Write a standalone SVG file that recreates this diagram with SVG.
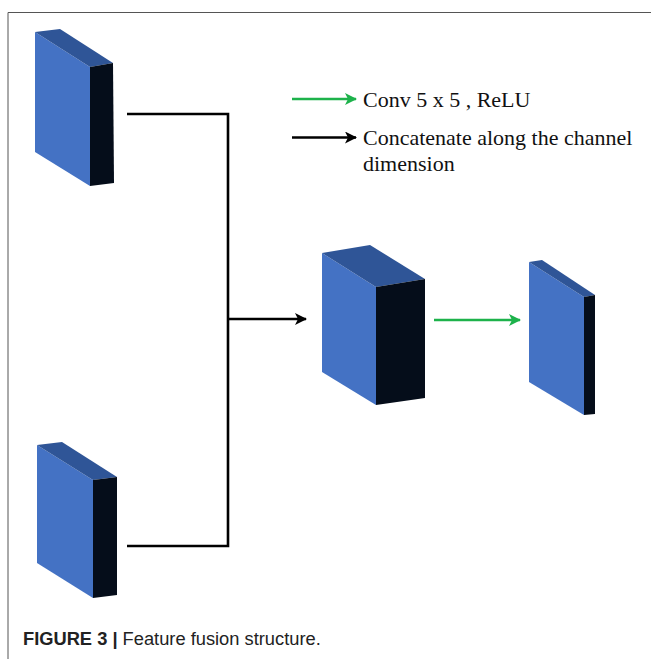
<svg xmlns="http://www.w3.org/2000/svg" width="651" height="659" viewBox="0 0 651 659">
<style>
.front{fill:#4472C4}
.top{fill:#2F5597}
.side{fill:#050D1A}
.blk{stroke:#000;stroke-width:2.6;fill:none}
.grn{stroke:#1DB24B;stroke-width:2.6;fill:none}
.legend{font-family:"Liberation Serif","Times New Roman",serif;font-size:22px;fill:#111}
.cap{font-family:"Liberation Sans",Arial,sans-serif;font-size:18.3px;fill:#222}
</style>
<defs>
<marker id="ab" viewBox="0 0 12 12" refX="11" refY="6" markerWidth="12" markerHeight="12" markerUnits="userSpaceOnUse" orient="auto">
<path d="M0,0 L12,6 L0,12 L3,6 Z" fill="#000"/>
</marker>
<marker id="ag" viewBox="0 0 12 12" refX="11" refY="6" markerWidth="12" markerHeight="12" markerUnits="userSpaceOnUse" orient="auto">
<path d="M0,0 L12,6 L0,12 L3,6 Z" fill="#1DB24B"/>
</marker>
</defs>
<rect width="651" height="659" fill="#fff"/>
<path d="M8,659 L8,12.5 L651,12.5" stroke="#555" stroke-width="1" fill="none"/>

<g id="block1">
<polygon class="front" points="35,32 90,67 90,186 35,152"/>
<polygon class="top" points="35,32 60,29 113,63 90,67"/>
<polygon class="side" points="90,67 113,63 114,183 90,186"/>
</g>
<g id="block2">
<polygon class="front" points="37,445 93,480 93,598 37,563"/>
<polygon class="top" points="37,445 62,442 117,477 93,480"/>
<polygon class="side" points="93,480 117,477 117,595 93,598"/>
</g>
<g id="block3">
<polygon class="front" points="322,253 376,287 376,405 322,372"/>
<polygon class="top" points="322,253 370,245 425,279 376,287"/>
<polygon class="side" points="376,287 425,279 425,398 376,405"/>
</g>
<g id="block4">
<polygon class="front" points="529,262 584,297 584,415 529,382"/>
<polygon class="top" points="529,262 542,260 595,295 584,297"/>
<polygon class="side" points="584,297 595,295 595,414 584,415"/>
</g>

<g id="connectors">
<path class="blk" d="M127,114 L228,114 L228,546 L127,546"/>
<line class="blk" x1="228" y1="319" x2="306" y2="319" marker-end="url(#ab)"/>
<line class="grn" x1="434" y1="320" x2="520" y2="320" marker-end="url(#ag)"/>
</g>

<g id="legend">
<line class="grn" x1="292" y1="99" x2="356" y2="99" marker-end="url(#ag)"/>
<text class="legend" x="363" y="107">Conv 5 x 5 , ReLU</text>
<line class="blk" x1="292" y1="137.5" x2="356" y2="137.5" marker-end="url(#ab)"/>
<text class="legend" x="363" y="145">Concatenate along the channel</text>
<text class="legend" x="363" y="171">dimension</text>
</g>

<text class="cap" x="23" y="645"><tspan font-weight="bold">FIGURE 3 |</tspan> Feature fusion structure.</text>
</svg>
